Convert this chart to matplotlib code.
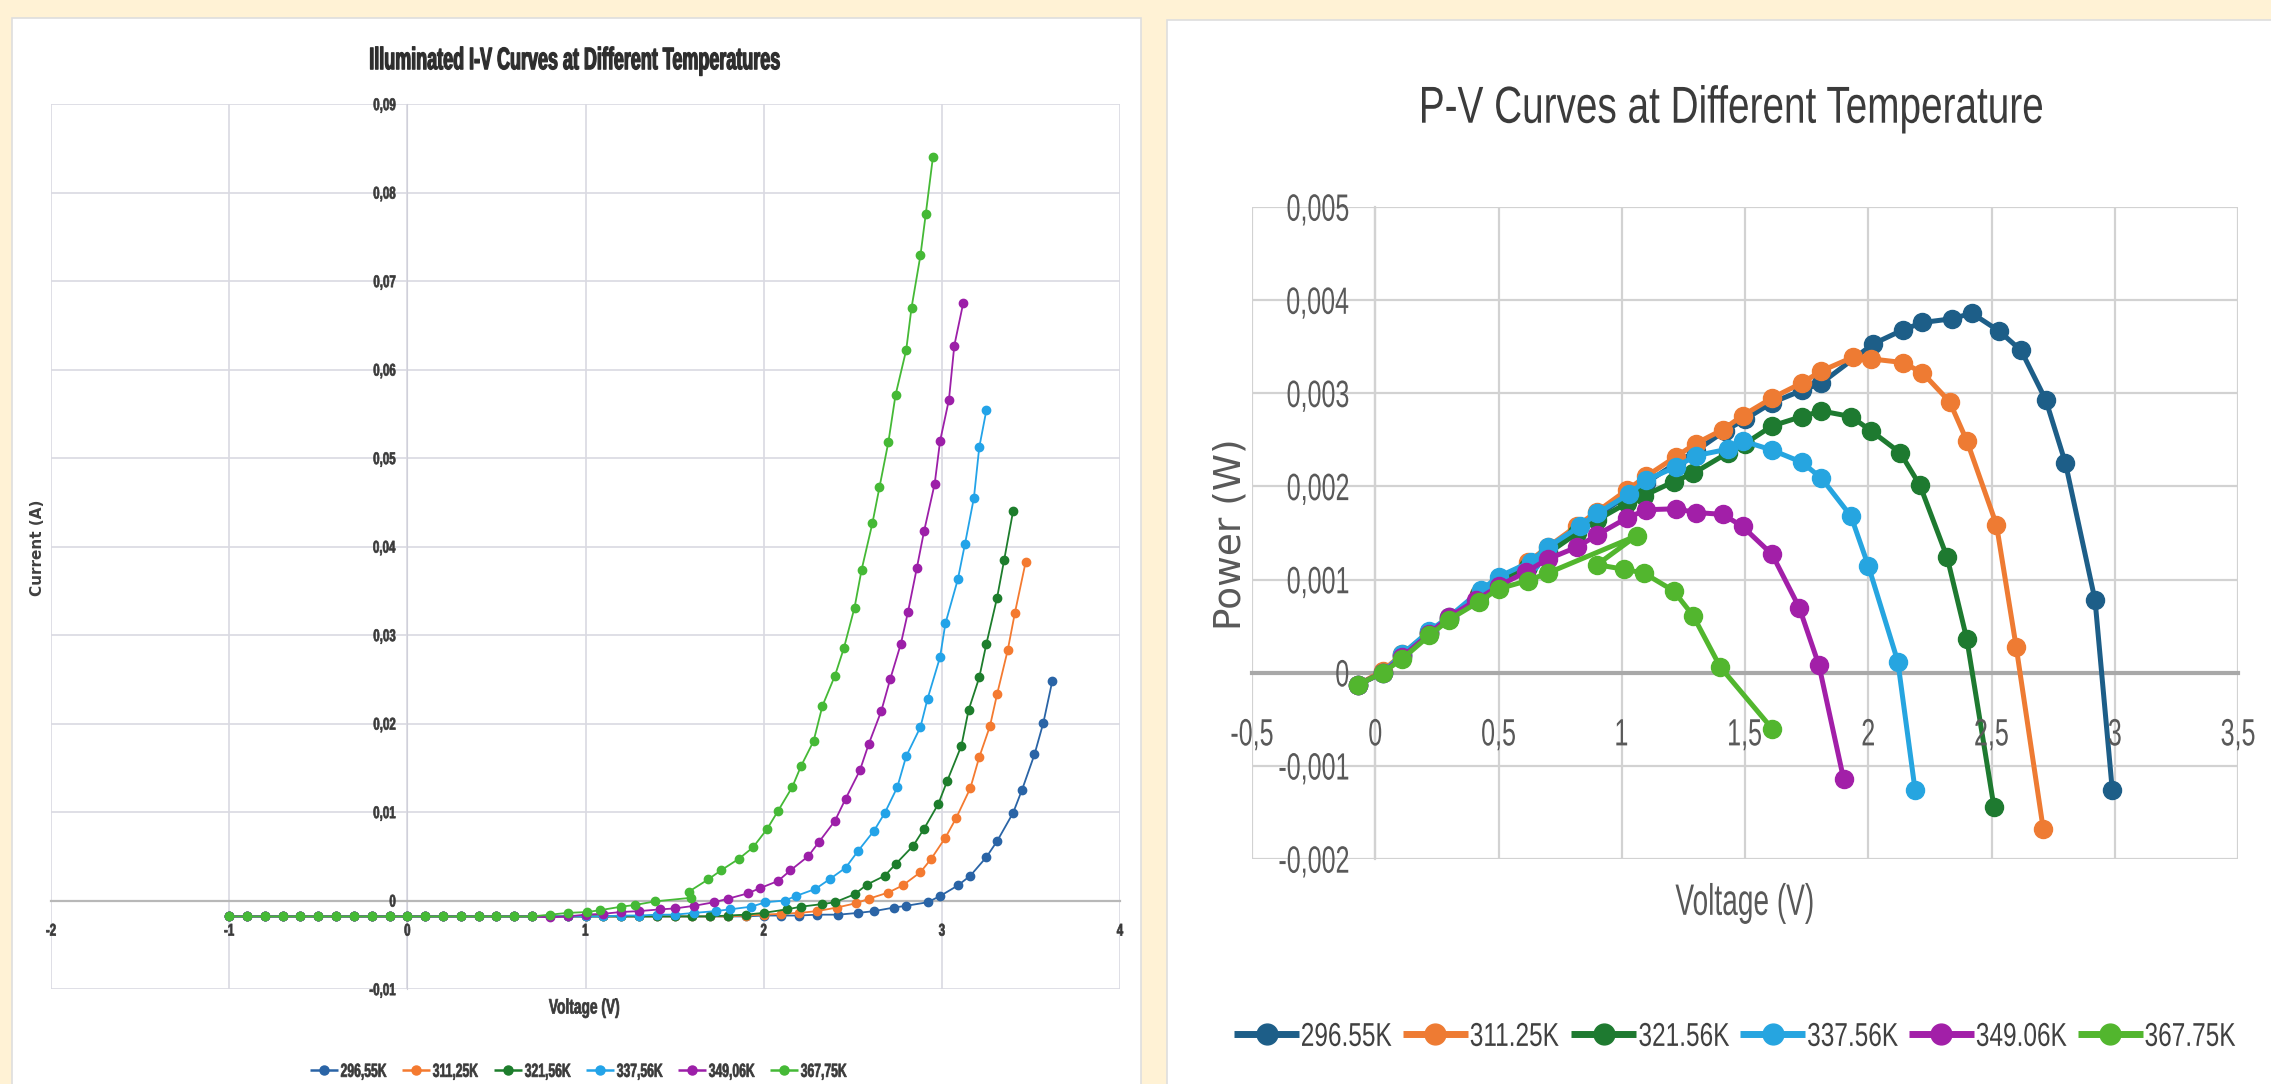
import matplotlib
matplotlib.use("Agg")
import matplotlib.pyplot as plt
from matplotlib.font_manager import FontProperties
from matplotlib.lines import Line2D
from matplotlib.patches import PathPatch, Rectangle
from matplotlib.textpath import TextPath
from matplotlib.transforms import Affine2D

# ---- illuminated I-V sweep (left) ----
iv_labels = ["296,55K", "311,25K", "321,56K", "337,56K", "349,06K", "367,75K"]
iv_colors = ["#2a64a6", "#f47a30", "#1d7d2c", "#23a3e8", "#9c1fa8", "#45b936"]

# reverse-bias part shared by every sweep
v_rev = [-1.0, -0.9, -0.8, -0.7, -0.6, -0.5, -0.4, -0.3, -0.2, -0.1,
         0.0, 0.1, 0.2, 0.3, 0.4, 0.5, 0.6, 0.7]
i_rev = [-0.0018, -0.0018, -0.0018, -0.0018, -0.0018, -0.0018, -0.0018, -0.0018, -0.0018,
         -0.0018, -0.0018, -0.0018, -0.0018, -0.0018, -0.0018, -0.0018, -0.0018, -0.0018]

v_296 = [0.8, 0.9, 1.0, 1.1, 1.2, 1.3, 1.4, 1.5, 1.6, 1.7, 1.8, 1.9, 2.0, 2.1, 2.2, 2.3,
         2.42, 2.53, 2.62, 2.73, 2.80, 2.92, 2.99, 3.09, 3.16, 3.25, 3.31, 3.40, 3.45,
         3.52, 3.57, 3.62]
i_296 = [-0.0018, -0.0018, -0.0018, -0.0018, -0.0018, -0.0018, -0.0018, -0.0018, -0.0018,
         -0.0018, -0.0018, -0.0018, -0.0017, -0.0017, -0.0017, -0.0016, -0.0016, -0.0014,
         -0.0012, -0.0008, -0.0006, -0.0002, 0.0005, 0.0017, 0.0028, 0.0049, 0.0067,
         0.0099, 0.0125, 0.0165, 0.0201, 0.0248]

v_311 = [0.8, 0.9, 1.0, 1.1, 1.2, 1.3, 1.4, 1.5, 1.6, 1.7, 1.8, 1.9, 2.0, 2.1, 2.2, 2.3,
         2.41, 2.52, 2.59, 2.70, 2.78, 2.88, 2.94, 3.02, 3.08, 3.16, 3.21, 3.27, 3.31,
         3.37, 3.41, 3.47]
i_311 = [-0.0018, -0.0018, -0.0018, -0.0018, -0.0018, -0.0018, -0.0018, -0.0018, -0.0018,
         -0.0018, -0.0018, -0.0017, -0.0016, -0.0015, -0.0014, -0.0012, -0.0008, -0.0003,
         0.0002, 0.0009, 0.0017, 0.0032, 0.0047, 0.0071, 0.0093, 0.0127, 0.0162, 0.0197,
         0.0233, 0.0283, 0.0325, 0.0382]

v_321 = [0.8, 0.9, 1.0, 1.1, 1.2, 1.3, 1.4, 1.5, 1.6, 1.7, 1.8, 1.9, 2.0, 2.13, 2.21,
         2.33, 2.40, 2.51, 2.58, 2.68, 2.74, 2.84, 2.90, 2.98, 3.03, 3.11, 3.15, 3.21,
         3.25, 3.31, 3.35, 3.40]
i_321 = [-0.0018, -0.0018, -0.0018, -0.0018, -0.0018, -0.0018, -0.0018, -0.0018, -0.0018,
         -0.0018, -0.0017, -0.0016, -0.0014, -0.0010, -0.0007, -0.0004, -0.0002, 0.0007,
         0.0018, 0.0028, 0.0041, 0.0062, 0.0081, 0.0109, 0.0135, 0.0175, 0.0215, 0.0252,
         0.0290, 0.0342, 0.0385, 0.0440]

v_337 = [0.8, 0.9, 1.0, 1.1, 1.2, 1.3, 1.4, 1.5, 1.61, 1.73, 1.81, 1.93, 2.01, 2.12,
         2.18, 2.29, 2.37, 2.46, 2.53, 2.62, 2.68, 2.75, 2.80, 2.88, 2.92, 2.99, 3.02,
         3.09, 3.13, 3.18, 3.21, 3.25]
i_337 = [-0.0018, -0.0018, -0.0018, -0.0018, -0.0017, -0.0017, -0.0016, -0.0016, -0.0014,
         -0.0012, -0.0010, -0.0007, -0.0002, 0.0000, 0.0005, 0.0013, 0.0024, 0.0037,
         0.0056, 0.0079, 0.0099, 0.0128, 0.0163, 0.0196, 0.0228, 0.0275, 0.0313, 0.0363,
         0.0403, 0.0455, 0.0512, 0.0554]

v_349 = [0.8, 0.9, 1.0, 1.1, 1.2, 1.3, 1.42, 1.50, 1.61, 1.72, 1.80, 1.91, 1.98, 2.08,
         2.15, 2.25, 2.31, 2.40, 2.46, 2.54, 2.59, 2.66, 2.71, 2.77, 2.81, 2.86, 2.90,
         2.96, 2.99, 3.04, 3.07, 3.12]
i_349 = [-0.0019, -0.0018, -0.0016, -0.0015, -0.0013, -0.0012, -0.0010, -0.0009, -0.0006,
         -0.0002, 0.0002, 0.0008, 0.0014, 0.0022, 0.0034, 0.0050, 0.0066, 0.0090, 0.0115,
         0.0147, 0.0177, 0.0214, 0.0250, 0.0290, 0.0326, 0.0376, 0.0417, 0.0471, 0.0519,
         0.0566, 0.0627, 0.0675]

v_367 = [0.8, 0.9, 1.01, 1.08, 1.20, 1.28, 1.39, 1.59, 1.58, 1.69, 1.76, 1.86, 1.94,
         2.02, 2.08, 2.16, 2.21, 2.28, 2.33, 2.40, 2.45, 2.51, 2.55, 2.61, 2.65, 2.70,
         2.74, 2.80, 2.83, 2.88, 2.91, 2.95]
i_367 = [-0.0016, -0.0014, -0.0013, -0.0011, -0.0007, -0.0005, -0.0001, 0.0003, 0.0010,
         0.0024, 0.0034, 0.0047, 0.0060, 0.0081, 0.0101, 0.0128, 0.0152, 0.0180, 0.0220,
         0.0254, 0.0285, 0.0331, 0.0374, 0.0426, 0.0467, 0.0518, 0.0571, 0.0622, 0.0670,
         0.0729, 0.0776, 0.0840]

iv_xticks = [-2, -1, 0, 1, 2, 3, 4]
iv_yticks = [-0.01, 0.0, 0.01, 0.02, 0.03, 0.04, 0.05, 0.06, 0.07, 0.08, 0.09]

# ---- P-V curves (right) ----
pv_labels = ["296.55K", "311.25K", "321.56K", "337.56K", "349.06K", "367.75K"]
pv_colors = ["#1d5e88", "#ee7b33", "#1e7a30", "#26a5e0", "#a21fa8", "#52b62e"]

pv_v_296 = [-0.07, 0.03, 0.11, 0.22, 0.30, 0.42, 0.50, 0.62, 0.70, 0.82, 0.90, 1.02, 1.10,
            1.22, 1.30, 1.42, 1.50, 1.61, 1.73, 1.81, 2.02, 2.14, 2.22, 2.34, 2.42, 2.53,
            2.62, 2.72, 2.80, 2.92, 2.99]
pv_p_296 = [-0.00013, 0.00001, 0.00019, 0.00043, 0.00058, 0.00082, 0.00096, 0.00116,
            0.00131, 0.00153, 0.00168, 0.00190, 0.00204, 0.00225, 0.00238, 0.00260,
            0.00272, 0.00290, 0.00303, 0.00311, 0.00353, 0.00368, 0.00376, 0.00380,
            0.00386, 0.00367, 0.00346, 0.00293, 0.00225, 0.00078, -0.00126]

pv_v_311 = [-0.07, 0.03, 0.11, 0.22, 0.30, 0.42, 0.50, 0.62, 0.70, 0.82, 0.90, 1.02, 1.10,
            1.22, 1.30, 1.41, 1.49, 1.61, 1.73, 1.81, 1.94, 2.01, 2.14, 2.22, 2.33, 2.40,
            2.52, 2.60, 2.71]
pv_p_311 = [-0.00013, 0.00002, 0.00020, 0.00044, 0.00060, 0.00084, 0.00099, 0.00119,
            0.00135, 0.00158, 0.00173, 0.00196, 0.00211, 0.00232, 0.00246, 0.00261,
            0.00276, 0.00295, 0.00311, 0.00324, 0.00339, 0.00337, 0.00333, 0.00322,
            0.00291, 0.00249, 0.00159, 0.00028, -0.00168]

pv_v_321 = [-0.07, 0.03, 0.11, 0.22, 0.30, 0.42, 0.50, 0.62, 0.70, 0.82, 0.90, 1.02, 1.09,
            1.21, 1.29, 1.43, 1.50, 1.61, 1.73, 1.81, 1.93, 2.01, 2.13, 2.21, 2.32, 2.40,
            2.51]
pv_p_321 = [-0.00013, 0.00000, 0.00018, 0.00043, 0.00058, 0.00083, 0.00098, 0.00114,
            0.00128, 0.00150, 0.00164, 0.00182, 0.00190, 0.00205, 0.00214, 0.00236,
            0.00246, 0.00265, 0.00275, 0.00281, 0.00275, 0.00260, 0.00236, 0.00201,
            0.00124, 0.00036, -0.00144]

pv_v_337 = [-0.07, 0.03, 0.11, 0.22, 0.30, 0.43, 0.50, 0.63, 0.70, 0.83, 0.90, 1.03, 1.10,
            1.22, 1.30, 1.43, 1.49, 1.61, 1.73, 1.81, 1.93, 2.00, 2.12, 2.19]
pv_p_337 = [-0.00013, 0.00000, 0.00020, 0.00045, 0.00060, 0.00089, 0.00103, 0.00119,
            0.00135, 0.00157, 0.00171, 0.00192, 0.00207, 0.00221, 0.00233, 0.00240,
            0.00249, 0.00239, 0.00226, 0.00209, 0.00168, 0.00115, 0.00012, -0.00126]

pv_v_349 = [-0.07, 0.03, 0.11, 0.22, 0.30, 0.41, 0.50, 0.61, 0.70, 0.82, 0.90, 1.02, 1.10,
            1.22, 1.30, 1.41, 1.49, 1.61, 1.72, 1.80, 1.90]
pv_p_349 = [-0.00013, 0.00000, 0.00017, 0.00042, 0.00060, 0.00078, 0.00093, 0.00108,
            0.00122, 0.00135, 0.00148, 0.00166, 0.00175, 0.00176, 0.00172, 0.00170,
            0.00157, 0.00127, 0.00070, 0.00008, -0.00114]

pv_v_367 = [-0.07, 0.03, 0.11, 0.22, 0.30, 0.42, 0.50, 0.62, 0.70, 1.06, 0.90, 1.01, 1.09,
            1.21, 1.29, 1.40, 1.61]
pv_p_367 = [-0.00013, 0.00000, 0.00015, 0.00040, 0.00057, 0.00076, 0.00090, 0.00099,
            0.00107, 0.00147, 0.00116, 0.00111, 0.00107, 0.00088, 0.00061, 0.00006,
            -0.00060]

pv_xticks = [-0.5, 0.0, 0.5, 1.0, 1.5, 2.0, 2.5, 3.0, 3.5]
pv_yticks = [-0.002, -0.001, 0.0, 0.001, 0.002, 0.003, 0.004, 0.005]

iv_series = [(v_296, i_296), (v_311, i_311), (v_321, i_321),
             (v_337, i_337), (v_349, i_349), (v_367, i_367)]
pv_series = [(pv_v_296, pv_p_296), (pv_v_311, pv_p_311), (pv_v_321, pv_p_321),
             (pv_v_337, pv_p_337), (pv_v_349, pv_p_349), (pv_v_367, pv_p_367)]

W, H = 2271, 1084

fig = plt.figure(figsize=(W / 100, H / 100), dpi=100)
fig.patch.set_facecolor("#fff2d5")


def comma(v):
    v = round(v, 6) + 0.0
    return f"{v:g}".replace(".", ",")


def px_box(x0, y0, x1, y1):
    # pixel box measured from the top-left corner -> figure fraction rect
    return [x0 / W, 1 - y1 / H, (x1 - x0) / W, (y1 - y0) / H]


def narrow_text(x, y, s, size, sx=1.0, width=None, ha="center", weight="normal",
                color="#404040", stroke=0.0):
    # condensed lettering: Liberation Sans outline squeezed horizontally,
    # placed in display pixels (x, y from the bottom-left), centred on cap height
    path = TextPath((0, 0), s, size=size,
                    prop=FontProperties(family="Liberation Sans", weight=weight))
    ext = path.get_extents()
    if width is not None:
        sx = width / ext.width
    x_ref = {"left": ext.x0, "center": (ext.x0 + ext.x1) / 2, "right": ext.x1}[ha]
    tr = Affine2D().translate(-x_ref, -0.36 * size).scale(sx, 1).translate(x, y)
    fig.add_artist(PathPatch(path, transform=tr, facecolor=color,
                             edgecolor=color if stroke else "none", lw=stroke,
                             joinstyle="round"))


def legend_row(x_start, y, pitch, handle_len, labels, colors, lw, ms, text_size, sx,
               weight="normal", color="#404040", stroke=0.0):
    for k, (lab, c) in enumerate(zip(labels, colors)):
        x0 = x_start + k * pitch
        fig.add_artist(Line2D([x0 / W, (x0 + handle_len) / W], [y / H, y / H],
                              color=c, lw=lw, solid_capstyle="butt"))
        fig.add_artist(Line2D([(x0 + handle_len / 2) / W], [y / H], color=c,
                              marker="o", ms=ms, lw=0))
        narrow_text(x0 + handle_len + 3, y, lab, text_size, sx=sx, ha="left",
                    weight=weight, color=color, stroke=stroke)


# white chart cards
fig.add_artist(Rectangle((12 / W, -0.02), (1141 - 12) / W, 1 - 18 / H + 0.02,
                         transform=fig.transFigure, facecolor="white",
                         edgecolor="#dedede", lw=1.2, zorder=0))
fig.add_artist(Rectangle((1167 / W, -0.02), 0.5, 1 - 20 / H + 0.02,
                         transform=fig.transFigure, facecolor="white",
                         edgecolor="#dedede", lw=1.2, zorder=0))

# ---------------- left: I-V ----------------
ax1 = fig.add_axes(px_box(51, 104, 1120, 989))
ax1.set_facecolor("none")
for (v, i), c, lab in zip(iv_series, iv_colors, iv_labels):
    ax1.plot(v_rev + v, i_rev + i, "-o", color=c, lw=1.3, ms=6, label=lab, zorder=3)

ax1.set_xlim(-2, 4)
ax1.set_ylim(-0.01, 0.09)
ax1.set_xticks(iv_xticks)
ax1.set_yticks(iv_yticks)
ax1.tick_params(length=0, labelbottom=False, labelleft=False)
ax1.grid(True, color="#d9d9e2", lw=1.2)
ax1.set_axisbelow(True)
for s in ["top", "right"]:
    ax1.spines[s].set_visible(False)
ax1.spines["left"].set_position(("data", 0))
ax1.spines["left"].set_color("#d0d0da")
ax1.spines["bottom"].set_position(("data", 0))
ax1.spines["bottom"].set_color("#b8b8b8")
ax1.spines["bottom"].set_linewidth(1.6)

for t in iv_xticks:
    px, py = ax1.transData.transform((t, 0.0))
    narrow_text(px, py - 29, comma(t), 17, sx=0.68, weight="bold", color="#3a3a3a",
                stroke=0.5)
for t in iv_yticks:
    px, py = ax1.transData.transform((0.0, t))
    narrow_text(px - 12, py, comma(t), 17, sx=0.68, ha="right", weight="bold",
                color="#3a3a3a", stroke=0.5)

narrow_text(575, H - 58, "Illuminated I-V Curves at Different Temperatures", 31,
            width=409, weight="bold", color="#2e2e2e", stroke=0.9)
narrow_text(584, H - 1006, "Voltage (V)", 21, width=70, weight="bold",
            color="#3a3a3a", stroke=0.5)
fig.text(38 / W, 1 - 548 / H, "Current (A)", ha="center", va="center",
         rotation=90, fontweight="bold", fontsize=11, color="#404040")

legend_row(310, H - 1070, 92, 28, iv_labels, iv_colors, lw=1.8, ms=6.5,
           text_size=19, sx=0.64, weight="bold", color="#3a3a3a", stroke=0.5)

# ---------------- right: P-V ----------------
ax2 = fig.add_axes(px_box(1252, 207, 2238, 859))
ax2.set_facecolor("none")
for (v, p), c, lab in zip(pv_series, pv_colors, pv_labels):
    ax2.plot(v, p, "-o", color=c, lw=3.6, ms=13, label=lab, zorder=3)

ax2.set_xlim(-0.5, 3.5)
ax2.set_ylim(-0.002, 0.005)
ax2.set_xticks(pv_xticks)
ax2.set_yticks(pv_yticks)
ax2.tick_params(length=0, labelbottom=False, labelleft=False)
ax2.grid(True, color="#d2d2d2", lw=1.6)
ax2.set_axisbelow(True)
for s in ["top", "right"]:
    ax2.spines[s].set_visible(False)
ax2.spines["left"].set_position(("data", 0))
ax2.spines["left"].set_color("#d2d2d2")
ax2.spines["left"].set_linewidth(1.6)
ax2.spines["bottom"].set_position(("data", 0))
ax2.spines["bottom"].set_color("#a8a8a8")
ax2.spines["bottom"].set_linewidth(3)

for t in pv_xticks:
    px, py = ax2.transData.transform((t, 0.0))
    narrow_text(px, py - 59, comma(t), 38, sx=0.66, color="#595959")
for t in pv_yticks:
    px, py = ax2.transData.transform((0.0, t))
    narrow_text(px - 27, py, comma(t), 38, sx=0.66, ha="right", color="#595959")

narrow_text(1732, H - 104, "P-V Curves at Different Temperature", 52, width=620,
            color="#3b3b3b")
narrow_text(1744, H - 899, "Voltage (V)", 44, width=137, color="#595959")
fig.text(1231 / W, 1 - 534 / H, "Power (W)", ha="center", va="center",
         rotation=90, fontsize=27, color="#595959")

legend_row(1234, H - 1034, 168.7, 65, pv_labels, pv_colors, lw=5, ms=15,
           text_size=33, sx=0.74, color="#404040")

fig.savefig("out.png", dpi=100, facecolor=fig.get_facecolor())
